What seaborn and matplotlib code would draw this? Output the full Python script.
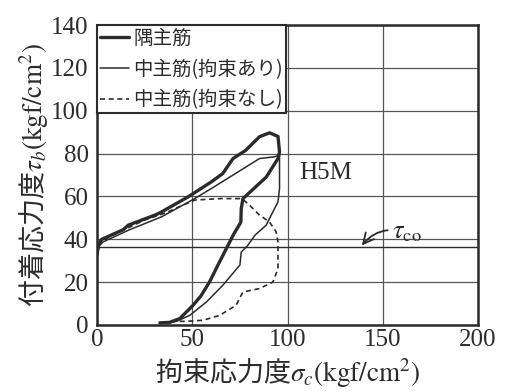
import matplotlib
matplotlib.use("Agg")
import matplotlib.pyplot as plt
import seaborn as sns
import pandas as pd

# Corner bar (隅主筋): loading branch then unloading branch
corner_x = [0, 1, 2.5, 13.8, 16.4, 31, 33.9, 47.8, 60, 66, 71.4, 78, 85.3, 90.6, 95, 95.8,
            95, 88.8, 76.6, 75.7, 75.5, 71.5, 67.9, 63.5, 59, 54.5, 50.4, 43.5, 38, 33]
corner_y = [33, 38, 40, 44.5, 46.6, 51.5, 52.8, 59.8, 66.8, 70.7, 77.7, 81.5, 87.9, 89.7, 88, 80.8,
            77.7, 69, 59, 54.3, 48, 42, 35.7, 28, 20, 13.5, 9.2, 3, 1.2, 1]

# Middle bar, confined (中主筋 拘束あり)
mid_conf_x = [0, 1, 2.5, 16.4, 33.9, 51.3, 60, 71.4, 85.3, 93.2, 95.8, 95.8, 95.8, 95, 88.8,
              83, 79, 75.7, 75, 66, 57.4, 48.7, 41.7, 38]
mid_conf_y = [32, 37, 38.5, 44.2, 50.5, 59, 63.7, 70, 77.7, 78.5, 79.3, 70, 63.7, 57.5, 46.6,
              42, 37, 34, 28, 18.5, 10.7, 4.5, 1.7, 1]

# Middle bar, unconfined (中主筋 拘束なし)
mid_free_x = [0, 1, 6, 25, 36.5, 42.6, 51.3, 55, 65, 76, 80, 85, 90.6, 94, 95, 95, 92.3,
              85.3, 76.6, 73, 64.4, 55.7, 47, 41.7]
mid_free_y = [33, 37, 41, 49, 52.5, 55, 58.3, 58.5, 59, 59, 56, 51.5, 48, 43.5, 38.8, 26.3, 20,
              17, 15.4, 9.2, 4.5, 2.2, 1.7, 1.7]

series_labels = ["隅主筋", "中主筋(拘束あり)", "中主筋(拘束なし)"]
tau_co = 36.5

x_ticks = [0, 50, 100, 150, 200]
y_ticks = [0, 20, 40, 60, 80, 100, 120, 140]

sns.set_theme(style="white")
plt.rcParams["font.family"] = ["Liberation Serif", "DejaVu Serif"]
plt.rcParams["mathtext.fontset"] = "stix"

ink = "#2b2b2b"
cjk = ["Noto Sans CJK JP", "DejaVu Sans"]

fig = plt.figure(figsize=(5.08, 3.92), dpi=100)
ax = fig.add_axes([0.191, 0.171, 0.750, 0.765])

frames = [
    (corner_x, corner_y, series_labels[0], 2.4, "-"),
    (mid_conf_x, mid_conf_y, series_labels[1], 1.1, "-"),
    (mid_free_x, mid_free_y, series_labels[2], 1.2, (0, (3, 2.2))),
]
for xs, ys, lab, lw, ls in frames:
    df = pd.DataFrame({"x": xs, "y": ys})
    sns.lineplot(data=df, x="x", y="y", sort=False, estimator=None, ax=ax,
                 color=ink, linewidth=lw, linestyle=ls, label=lab)

# reference bond strength level
ax.axhline(tau_co, color=ink, linewidth=1.0, zorder=1)
ax.annotate(r"$\tau_{\mathrm{co}}$", xy=(139, tau_co + 0.6), xytext=(155, 43),
            fontsize=19, color=ink, va="center", ha="left",
            arrowprops=dict(arrowstyle="->", color=ink, lw=1.3,
                            connectionstyle="arc3,rad=0.35", shrinkA=1, shrinkB=0))
ax.text(106, 71, "H5M", fontsize=18, color=ink, ha="left", va="center")

ax.set_xlim(0, 200)
ax.set_ylim(0, 140)
ax.set_xticks(x_ticks)
ax.set_yticks(y_ticks)
ax.tick_params(axis="both", length=0, labelsize=18, colors=ink)
ax.tick_params(axis="x", pad=3)
ax.tick_params(axis="y", pad=6)
ax.grid(True, color="#555555", linewidth=0.9)
ax.set_axisbelow(True)
for s in ax.spines.values():
    s.set_color(ink)
    s.set_linewidth(1.8)

ax.set_xlabel(r"拘束応力度$\sigma_c\mathrm{(kgf/cm^2)}$", fontsize=19.5, family=cjk,
              color=ink, labelpad=4)
ax.set_ylabel(r"付着応力度$\tau_b\mathrm{(kgf/cm^2)}$", fontsize=19.5, family=cjk,
              color=ink, labelpad=0)

leg = ax.legend(loc="upper left", borderaxespad=0, fancybox=False, framealpha=1,
                edgecolor=ink, handlelength=1.5, handletextpad=0.2, labelspacing=0.5,
                borderpad=0.15, prop={"family": cjk, "size": 14})
leg.get_frame().set_linewidth(1.5)
for t in leg.get_texts():
    t.set_color(ink)

fig.savefig("out.png", dpi=100, facecolor="white")
